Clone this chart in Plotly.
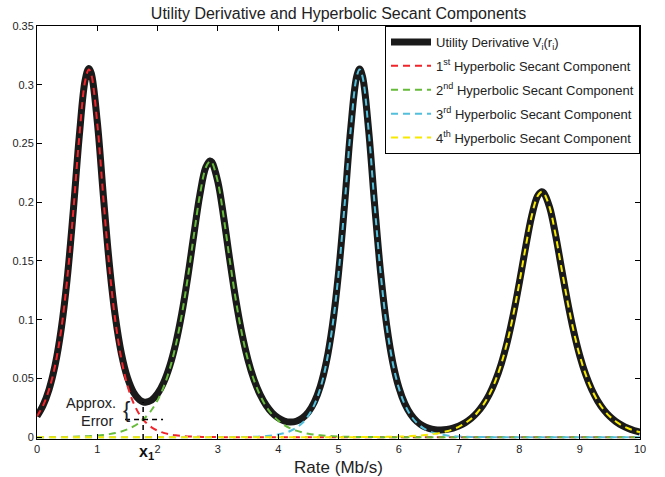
import plotly.graph_objects as go

# ---------------- data ----------------
rate = [
    0.0, 0.1, 0.2, 0.3, 0.4, 0.5, 0.6, 0.7, 0.8, 0.86,
    0.9, 1.0, 1.1, 1.2, 1.3, 1.4, 1.5, 1.6, 1.7, 1.76,
    1.8, 1.9, 2.0, 2.1, 2.2, 2.3, 2.4, 2.5, 2.6, 2.7,
    2.8, 2.87, 2.9, 3.0, 3.1, 3.2, 3.3, 3.4, 3.5, 3.6,
    3.7, 3.8, 3.9, 4.0, 4.1, 4.2, 4.3, 4.4, 4.5, 4.6,
    4.7, 4.8, 4.9, 5.0, 5.1, 5.2, 5.3, 5.35, 5.4, 5.5,
    5.6, 5.7, 5.8, 5.9, 6.0, 6.1, 6.2, 6.3, 6.4, 6.5,
    6.6, 6.7, 6.8, 6.9, 7.0, 7.1, 7.2, 7.3, 7.4, 7.5,
    7.6, 7.7, 7.8, 7.9, 8.0, 8.1, 8.2, 8.3, 8.37, 8.4,
    8.5, 8.6, 8.7, 8.8, 8.9, 9.0, 9.1, 9.2, 9.3, 9.4,
    9.5, 9.6, 9.7, 9.8, 9.9, 10.0,
]

utility_derivative = [
    .01785, .02698, .04070, .06120, .09145, .13456, .19156, .25554, .30435, .31392,
    .30981, .26834, .20579, .14719, .10231, .07111, .05074, .03835, .03180, .03011,
    .02979, .03163, .03712, .04652, .06043, .07963, .10491, .13629, .17186, .20608,
    .22979, .23517, .23415, .21726, .18587, .14975, .11604, .08783, .06566, .04881,
    .03632, .02723, .02078, .01645, .01387, .01291, .01360, .01623, .02139, .03000,
    .04360, .06441, .09537, .13955, .19758, .26121, .30671, .31331, .30666, .26109,
    .19735, .13919, .09483, .06366, .04256, .02854, .01936, .01342, .00970, .00752,
    .00644, .00620, .00667, .00783, .00968, .01237, .01606, .02103, .02766, .03638,
    .04782, .06261, .08141, .10461, .13176, .16082, .18737, .20505, .20900, .20826,
    .19588, .17207, .14335, .11504, .09014, .06958, .05324, .04052, .03075, .02330,
    .01763, .01334, .01008, .00762, .00576, .00435,
]

sech_1 = [
    .01779, .02689, .04058, .06104, .09123, .13426, .19115, .25498, .30358, .31300,
    .30876, .26691, .20384, .14454, .09869, .06618, .04402, .02918, .01931, .01507,
    .01277, .00845, .00558, .00369, .00244, .00161, .00107, .00070, .00047, .00031,
    .00020, .00015, .00014, .00009, .00006, .00004, .00003, .00002, .00001, 0,
    0, 0, 0, 0, 0, 0, 0, 0, 0, 0,
    0, 0, 0, 0, 0, 0, 0, 0, 0, 0,
    0, 0, 0, 0, 0, 0, 0, 0, 0, 0,
    0, 0, 0, 0, 0, 0, 0, 0, 0, 0,
    0, 0, 0, 0, 0, 0, 0, 0, 0, 0,
    0, 0, 0, 0, 0, 0, 0, 0, 0, 0,
    0, 0, 0, 0, 0, 0,
]

sech_2 = [
    .00006, .00009, .00012, .00016, .00022, .00030, .00041, .00056, .00077, .00092,
    .00105, .00143, .00195, .00265, .00362, .00493, .00672, .00917, .01249, .01504,
    .01702, .02318, .03154, .04283, .05799, .07802, .10384, .13559, .17139, .20576,
    .22957, .23500, .23399, .21713, .18575, .14963, .11588, .08762, .06536, .04837,
    .03566, .02622, .01926, .01414, .01037, .00761, .00558, .00409, .00300, .00220,
    .00161, .00118, .00087, .00064, .00047, .00034, .00025, .00022, .00018, .00014,
    .00010, .00007, .00005, .00004, .00003, .00002, .00002, .00001, 0, 0,
    0, 0, 0, 0, 0, 0, 0, 0, 0, 0,
    0, 0, 0, 0, 0, 0, 0, 0, 0, 0,
    0, 0, 0, 0, 0, 0, 0, 0, 0, 0,
    0, 0, 0, 0, 0, 0,
]

sech_3 = [
    0, 0, 0, 0, 0, 0, 0, 0, 0, 0,
    0, 0, 0, 0, 0, 0, 0, 0, 0, 0,
    0, 0, 0, 0, 0, 0, 0, 0, 0, .00001,
    .00002, .00002, .00002, .00004, .00006, .00008, .00013, .00019, .00029, .00044,
    .00066, .00101, .00152, .00231, .00350, .00530, .00802, .01214, .01838, .02779,
    .04198, .06321, .09447, .13888, .19707, .26081, .30638, .31300, .30638, .26081,
    .19707, .13888, .09447, .06321, .04198, .02779, .01838, .01214, .00802, .00530,
    .00350, .00231, .00152, .00101, .00066, .00044, .00029, .00019, .00013, .00008,
    .00006, .00004, .00002, .00002, .00001, 0, 0, 0, 0, 0,
    0, 0, 0, 0, 0, 0, 0, 0, 0, 0,
    0, 0, 0, 0, 0, 0,
]

sech_4 = [
    0, 0, 0, 0, 0, 0, 0, 0, 0, 0,
    0, 0, 0, 0, 0, 0, 0, 0, 0, 0,
    0, 0, 0, 0, 0, 0, 0, 0, 0, 0,
    0, 0, 0, 0, 0, 0, 0, 0, 0, 0,
    0, 0, 0, 0, 0, 0, 0, 0, .00001, .00001,
    .00001, .00002, .00003, .00003, .00004, .00006, .00008, .00009, .00010, .00014,
    .00018, .00024, .00031, .00041, .00055, .00073, .00096, .00127, .00168, .00222,
    .00294, .00389, .00515, .00682, .00902, .01193, .01577, .02084, .02753, .03630,
    .04776, .06257, .08139, .10459, .13175, .16082, .18737, .20505, .20900, .20826,
    .19588, .17207, .14335, .11504, .09014, .06958, .05324, .04052, .03075, .02330,
    .01763, .01334, .01008, .00762, .00576, .00435,
]

series_names = [
    "Utility Derivative V<sub>i</sub>(r<sub>i</sub>)",
    "1<sup>st</sup> Hyperbolic Secant Component",
    "2<sup>nd</sup> Hyperbolic Secant Component",
    "3<sup>rd</sup> Hyperbolic Secant Component",
    "4<sup>th</sup> Hyperbolic Secant Component",
]

x_ticks = [0, 1, 2, 3, 4, 5, 6, 7, 8, 9, 10]
x_tick_labels = ["0", "1", "2", "3", "4", "5", "6", "7", "8", "9", "10"]
y_ticks = [0, 0.05, 0.1, 0.15, 0.2, 0.25, 0.3, 0.35]
y_tick_labels = ["0", "0.05", "0.1", "0.15", "0.2", "0.25", "0.3", "0.35"]

x1_point = 1.76        # crossing point x1
x1_cross_value = 0.015 # value where components cross
x1_curve_value = 0.030 # utility derivative at x1

# ---------------- figure ----------------
FONT = "Liberation Sans, Arial, sans-serif"
comp_colors = ["#f0242a", "#66bb3a", "#52c0dc", "#f7ea00"]
comps = [sech_1, sech_2, sech_3, sech_4]

fig = go.Figure()
fig.add_trace(go.Scatter(
    x=rate, y=utility_derivative, mode="lines", name=series_names[0],
    line=dict(color="#1a1a1a", width=7, shape="spline"), legendgroup="g0",
))
for i, (vals, col) in enumerate(zip(comps, comp_colors)):
    fig.add_trace(go.Scatter(
        x=rate, y=vals, mode="lines", name=series_names[i + 1],
        line=dict(color=col, width=2, dash="7px,5px", shape="spline"),
        legendgroup=f"g{i+1}",
    ))

axis_common = dict(
    showline=True, linecolor="black", linewidth=1, mirror="allticks",
    ticks="inside", ticklen=5, tickwidth=1, tickcolor="black",
    showgrid=False, zeroline=False, automargin=False,
    tickfont=dict(family=FONT, size=11, color="#222"),
)

fig.update_layout(
    width=665, height=477,
    margin=dict(l=37, r=25, t=26, b=38),
    paper_bgcolor="white", plot_bgcolor="white",
    font=dict(family=FONT, size=11, color="#222"),
    title=dict(
        text="Utility Derivative and Hyperbolic Secant Components",
        x=338.5 / 665, xanchor="center", xref="container",
        y=1 - 13 / 477, yanchor="middle", yref="container",
        font=dict(family=FONT, size=16, color="#222"),
    ),
    xaxis=dict(
        range=[0, 10], tickvals=x_ticks, ticktext=x_tick_labels,
        title=dict(text="Rate (Mb/s)", font=dict(family=FONT, size=17, color="#222"), standoff=6),
        **axis_common,
    ),
    yaxis=dict(
        range=[-0.0015, 0.35], tickvals=y_ticks, ticktext=y_tick_labels,
        **axis_common,
    ),
    legend=dict(
        x=1, y=1, xanchor="right", yanchor="top",
        bgcolor="white", bordercolor="black", borderwidth=1,
        font=dict(family=FONT, size=13, color="#222"),
        traceorder="grouped", tracegroupgap=4, itemwidth=40,
    ),
    showlegend=True,
)

# annotation for approximation error
fig.add_shape(type="line", x0=1.46, x1=2.09, y0=x1_cross_value, y1=x1_cross_value,
              line=dict(color="black", width=1.5, dash="5px,4px"))
fig.add_shape(type="line", x0=x1_point, x1=x1_point, y0=-0.0015, y1=x1_curve_value,
              line=dict(color="black", width=1.5, dash="5px,4px"))
fig.add_annotation(x=1.343, y=0.0288, text="Approx.", showarrow=False,
                   xanchor="right", yanchor="middle",
                   font=dict(family=FONT, size=14.5, color="#222"))
fig.add_annotation(x=1.294, y=0.0136, text="Error", showarrow=False,
                   xanchor="right", yanchor="middle",
                   font=dict(family=FONT, size=14.5, color="#222"))
fig.add_annotation(x=1.49, y=0.0237, text="{", showarrow=False,
                   xanchor="center", yanchor="middle",
                   font=dict(family=FONT, size=22, color="#222"))
fig.add_annotation(x=x1_point, y=0, yref="y", yshift=-15, xshift=3,
                   text="<b>x</b><sub><b>1</b></sub>", showarrow=False,
                   xanchor="center", yanchor="middle",
                   font=dict(family=FONT, size=16, color="#111"))

fig.write_html("out.html")
